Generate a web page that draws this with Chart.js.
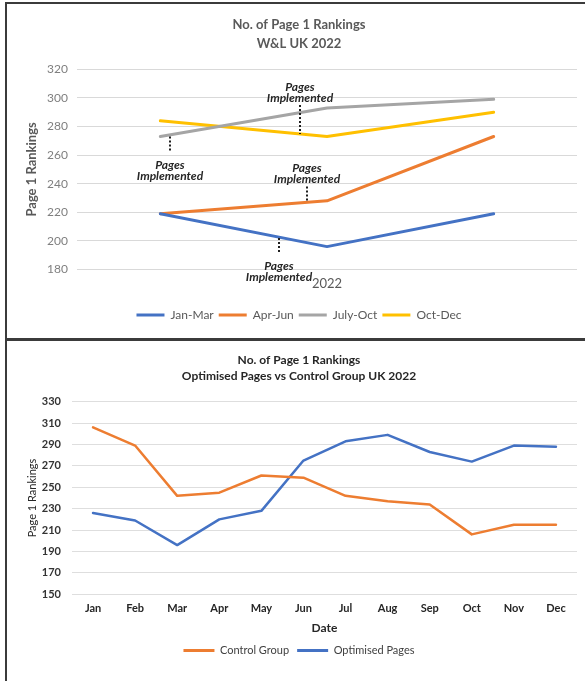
<!DOCTYPE html>
<html>
<head>
<meta charset="utf-8">
<script src="https://cdn.jsdelivr.net/npm/chart.js@4.4.0/dist/chart.umd.min.js"></script>
<style>
  html, body { margin: 0; padding: 0; background: #fff; width: 585px; height: 681px; overflow: hidden; }
  .frame { position: absolute; border: 2px solid #3b3b3b; box-sizing: border-box; }
  .holder { position: absolute; left: 0; width: 585px; }
  canvas { display: block; }
</style>
</head>
<body>
<div class="frame" style="left:5px; top:2px; width:640px; height:339px;"></div>
<div class="frame" style="left:5px; top:338px; width:640px; height:400px;"></div>
<div class="holder" style="top:0; height:339px;"><canvas id="quarters" width="585" height="339"></canvas></div>
<div class="holder" style="top:339px; height:342px;"><canvas id="monthly" width="585" height="342"></canvas></div>

<script>
// ---- W&L UK 2022 ----
const quarterTicks = ['', '2022', ''];
const quarterNames = ['Jan-Mar', 'Apr-Jun', 'July-Oct', 'Oct-Dec'];
const janMar   = [219, 196, 219];
const aprJun   = [219, 228, 273];
const julyOct  = [273, 293, 299];
const octDec   = [284, 273, 290];

// "Pages Implemented" call-outs, in category index / ranking units
const noteText = ['Pages', 'Implemented'];
const noteAt      = [0.06, 0.84, 0.88, 0.71];
const noteLineTop = [273, 295, 238, 202];
const noteLineEnd = [263, 274.7, 227.2, 191.5];
const noteLine1   = [253, 307.8, 251, 182.5];
const noteLine2   = [245.4, 300, 243.3, 174.8];

// ---- Optimised Pages vs Control Group UK 2022 ----
const months = ['Jan', 'Feb', 'Mar', 'Apr', 'May', 'Jun', 'Jul', 'Aug', 'Sep', 'Oct', 'Nov', 'Dec'];
const controlGroup   = [306, 289, 242, 245, 261, 259, 242, 237, 234, 206, 215, 215];
const optimisedPages = [226, 219, 196, 220, 228, 275, 293, 299, 283, 274, 289, 288];

Chart.defaults.font.family = 'Lato, "Open Sans", sans-serif';

const BLUE = '#4472C4', ORANGE = '#ED7D31', GREY = '#A5A5A5', GOLD = '#FFC000';

// legend keys drawn as flat line swatches
function flatKeys(chart) {
  return Chart.defaults.plugins.legend.labels.generateLabels(chart)
    .map(item => Object.assign(item, { lineWidth: 0 }));
}

const implementedNotes = {
  id: 'implementedNotes',
  afterDatasetsDraw(chart) {
    const { ctx, scales: { x, y } } = chart;
    ctx.save();
    ctx.strokeStyle = '#1f1f1f';
    ctx.lineWidth = 2;
    ctx.setLineDash([2, 2]);
    ctx.fillStyle = '#262626';
    ctx.font = 'italic bold 12px Lato';
    ctx.textAlign = 'center';
    ctx.textBaseline = 'middle';
    noteAt.forEach((at, i) => {
      const px = Math.round(x.getPixelForValue(at));
      ctx.beginPath();
      ctx.moveTo(px, y.getPixelForValue(noteLineTop[i]));
      ctx.lineTo(px, y.getPixelForValue(noteLineEnd[i]));
      ctx.stroke();
      ctx.fillText(noteText[0], px, y.getPixelForValue(noteLine1[i]));
      ctx.fillText(noteText[1], px, y.getPixelForValue(noteLine2[i]));
    });
    ctx.restore();
  }
};

const quarterSeries = [janMar, aprJun, julyOct, octDec];
const quarterColours = [BLUE, ORANGE, GREY, GOLD];

new Chart(document.getElementById('quarters'), {
  type: 'line',
  data: {
    labels: quarterTicks,
    datasets: quarterSeries.map((values, i) => ({
      label: quarterNames[i],
      data: values,
      borderColor: quarterColours[i],
      backgroundColor: quarterColours[i],
      borderWidth: 3,
      pointRadius: 0,
      tension: 0,
      borderCapStyle: 'round',
      borderJoinStyle: 'round'
    }))
  },
  options: {
    responsive: false,
    animation: false,
    layout: { padding: { left: 21, right: 8, top: 0, bottom: 8 } },
    plugins: {
      title: {
        display: true,
        text: ['No. of Page 1 Rankings', 'W&L UK 2022'],
        color: '#595959',
        font: { size: 13, weight: 'bold', lineHeight: '19px' },
        padding: { top: 15.5, bottom: 15.8 }
      },
      legend: {
        position: 'bottom',
        labels: {
          boxWidth: 28, boxHeight: 3, padding: 5,
          color: '#595959', font: { size: 12 },
          generateLabels: flatKeys
        }
      },
      tooltip: { enabled: false }
    },
    scales: {
      x: {
        offset: true,
        grid: { display: false, drawTicks: false },
        border: { display: false },
        ticks: { padding: 6.5, color: '#595959', font: { size: 13 }, maxRotation: 0, autoSkip: false },
        afterFit(scale) { scale.height = 34.5; }
      },
      y: {
        min: 180, max: 320,
        ticks: { stepSize: 20, padding: 9, color: '#7f7f7f', font: { size: 12 } },
        grid: { color: '#d9d9d9', drawTicks: false },
        border: { display: false },
        title: {
          display: true, text: 'Page 1 Rankings', color: '#595959',
          font: { size: 13, weight: 'bold' }, padding: { top: 3.2, bottom: 0 }
        },
        afterFit(scale) { scale.width = 56; }
      }
    }
  },
  plugins: [implementedNotes]
});

new Chart(document.getElementById('monthly'), {
  type: 'line',
  data: {
    labels: months,
    datasets: [
      { label: 'Control Group', data: controlGroup, borderColor: ORANGE, backgroundColor: ORANGE },
      { label: 'Optimised Pages', data: optimisedPages, borderColor: BLUE, backgroundColor: BLUE }
    ].map(d => Object.assign(d, { borderWidth: 2.5, pointRadius: 0, tension: 0, borderJoinStyle: 'round', borderCapStyle: 'round' }))
  },
  options: {
    responsive: false,
    animation: false,
    layout: { padding: { left: 21, right: 8, top: 0, bottom: 15 } },
    plugins: {
      title: {
        display: true,
        text: ['No. of Page 1 Rankings', 'Optimised Pages vs Control Group UK 2022'],
        color: '#262626',
        font: { size: 12, weight: 'bold', lineHeight: '16px' },
        padding: { top: 13, bottom: 17.7 }
      },
      legend: {
        position: 'bottom',
        labels: {
          boxWidth: 31, boxHeight: 3, padding: 8,
          color: '#404040', font: { size: 11 },
          generateLabels: flatKeys
        }
      },
      tooltip: { enabled: false }
    },
    scales: {
      x: {
        offset: true,
        grid: { display: false, drawTicks: false },
        border: { display: false },
        ticks: { padding: 8, color: '#262626', font: { size: 11, weight: 'bold' }, maxRotation: 0, autoSkip: false },
        title: { display: true, text: 'Date', color: '#262626', font: { size: 12, weight: 'bold' }, padding: { top: 0, bottom: 1.8 } },
        afterFit(scale) { scale.height = 42.7; }
      },
      y: {
        min: 150, max: 330,
        ticks: { stepSize: 20, padding: 11, color: '#333333', font: { size: 11, weight: 'bold' } },
        grid: { color: '#dedede', drawTicks: false },
        border: { display: false },
        title: {
          display: true, text: 'Page 1 Rankings', color: '#262626',
          font: { size: 11 }, padding: { top: 4.4, bottom: 0 }
        },
        afterFit(scale) { scale.width = 51; }
      }
    }
  }
});
</script>
</body>
</html>
